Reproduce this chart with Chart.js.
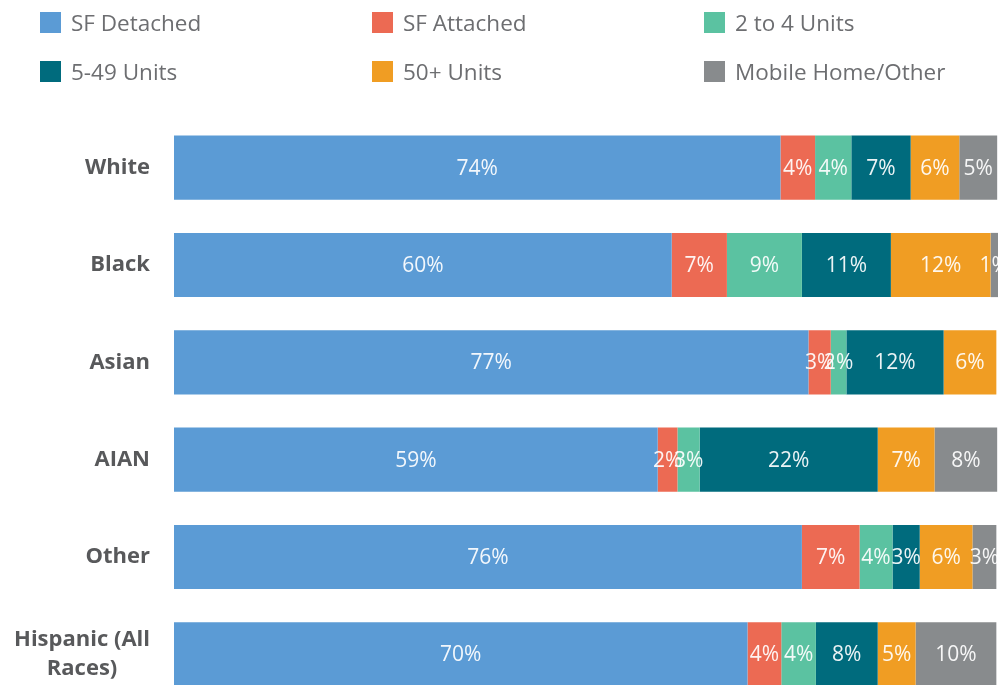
<!DOCTYPE html>
<html>
<head>
<meta charset="utf-8">
<script src="https://cdn.jsdelivr.net/npm/chart.js@4.4.0/dist/chart.umd.min.js"></script>
<style>
  html, body { margin: 0; padding: 0; background: #fff; overflow: hidden; }
  #wrap { position: relative; width: 998px; height: 703px; }
  #legend { position: absolute; left: 0; top: 0; width: 998px; height: 100px;
            font-family: 'Open Sans', sans-serif; font-size: 22.5px; color: #6d6e71; }
  .item { position: absolute; height: 30px; display: flex; align-items: center; white-space: nowrap; }
  .box { width: 21px; height: 21px; margin-right: 10px; }
</style>
</head>
<body>
<div id="wrap">
  <canvas id="housingChart"></canvas>
  <div id="legend"></div>
</div>
<script>
// categorias (linhas) e séries
const categories = ['White', 'Black', 'Asian', 'AIAN', 'Other', ['Hispanic (All', 'Races)']];
const seriesNames = ['SF Detached', 'SF Attached', '2 to 4 Units', '5-49 Units', '50+ Units', 'Mobile Home/Other'];
const seriesColors = ['#5b9bd5', '#ec6a53', '#5bc2a1', '#006b7d', '#f09d23', '#888b8d'];

// valores em %
const sfDetached = [73.6, 60.4, 77.0, 58.7, 76.2, 69.6];
const sfAttached = [4.2, 6.7, 2.7, 2.4, 7.0, 4.1];
const units2to4  = [4.4, 9.1, 1.9, 2.7, 4.0, 4.2];
const units5to49 = [7.2, 10.8, 11.8, 21.6, 3.3, 7.5];
const units50    = [5.9, 12.1, 6.4, 6.9, 6.4, 4.6];
const mobile     = [4.6, 0.9, 0, 7.6, 2.9, 9.8];

const seriesValues = [sfDetached, sfAttached, units2to4, units5to49, units50, mobile];

// rótulos do eixo Y (linhas centralizadas, bloco alinhado à direita)
const yLabels = {
  id: 'yLabels',
  afterDraw(chart) {
    const ctx = chart.ctx;
    const yScale = chart.scales.y;
    const right = chart.chartArea.left - 24;
    ctx.save();
    ctx.font = 'bold 22px "Open Sans"';
    ctx.fillStyle = '#58595b';
    ctx.textAlign = 'center';
    ctx.textBaseline = 'middle';
    categories.forEach(function(lab, i) {
      const lines = Array.isArray(lab) ? lab : [lab];
      const w = Math.max.apply(null, lines.map(l => ctx.measureText(l).width));
      const cx = right - w / 2;
      const cy = yScale.getPixelForTick(i);
      lines.forEach(function(l, j) {
        ctx.fillText(l, cx, cy + (j - (lines.length - 1) / 2) * 29);
      });
    });
    ctx.restore();
  }
};

// percentuais dentro das barras
const valueLabels = {
  id: 'valueLabels',
  afterDatasetsDraw(chart) {
    const ctx = chart.ctx;
    ctx.save();
    ctx.font = '21px "Open Sans"';
    ctx.fillStyle = 'rgba(255, 255, 255, 0.92)';
    ctx.textAlign = 'center';
    ctx.textBaseline = 'middle';
    chart.data.datasets.forEach(function(ds, di) {
      chart.getDatasetMeta(di).data.forEach(function(bar, i) {
        const v = ds.data[i];
        if (!v) return;
        const p = bar.getProps(['x', 'base', 'y'], true);
        ctx.fillText(Math.round(v) + '%', (p.x + p.base) / 2, p.y + 1);
      });
    });
    ctx.restore();
  }
};

function buildLegend() {
  const el = document.getElementById('legend');
  const cols = [40, 372, 704];
  const rows = [7, 56];
  seriesNames.forEach(function(name, i) {
    const item = document.createElement('div');
    item.className = 'item';
    item.style.left = cols[i % 3] + 'px';
    item.style.top = rows[Math.floor(i / 3)] + 'px';
    item.innerHTML = '<span class="box" style="background:' + seriesColors[i] + '"></span><span>' + name + '</span>';
    el.appendChild(item);
  });
}

function drawChart() {
  const ctx = document.getElementById('housingChart');
  new Chart(ctx, {
    type: 'bar',
    data: {
      labels: categories,
      datasets: seriesNames.map(function(name, i) {
        return {
          label: name,
          data: seriesValues[i],
          backgroundColor: seriesColors[i],
          borderWidth: 0,
          barPercentage: 0.66,
          categoryPercentage: 1
        };
      })
    },
    options: {
      indexAxis: 'y',
      responsive: true,
      maintainAspectRatio: false,
      animation: false,
      layout: { padding: { left: 174, top: 119, right: 0, bottom: 0 } },
      plugins: {
        legend: { display: false },
        tooltip: { enabled: false }
      },
      scales: {
        x: { stacked: true, min: 0, max: 100, display: false },
        y: { stacked: true, display: false }
      }
    },
    plugins: [valueLabels, yLabels]
  });
}

buildLegend();
document.fonts.load('21px "Open Sans"').then(function() {
  return document.fonts.load('bold 22px "Open Sans"');
}).then(drawChart, drawChart);
</script>
</body>
</html>
